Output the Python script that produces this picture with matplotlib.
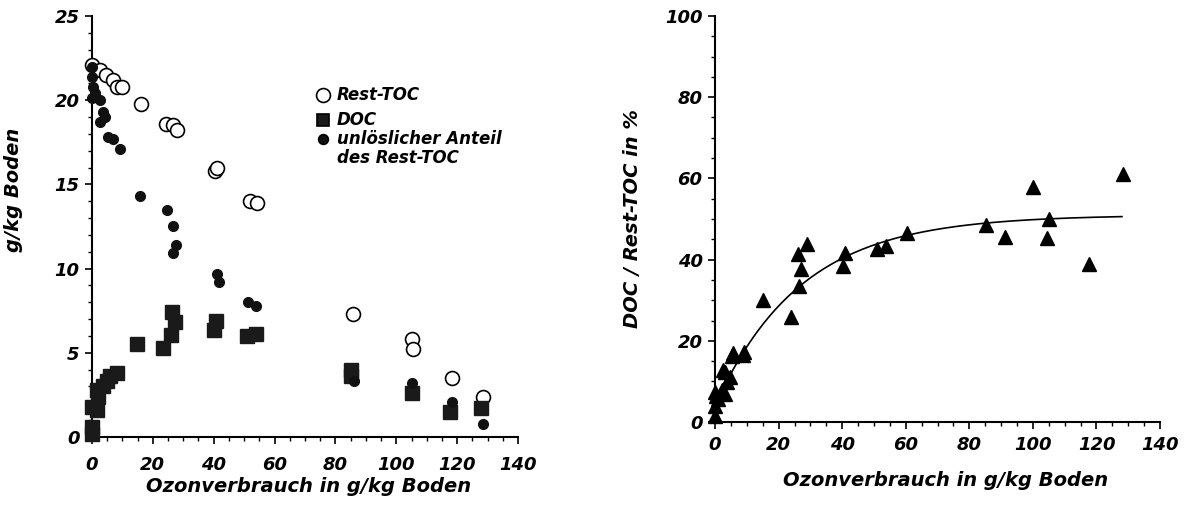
import numpy as np
import matplotlib.pyplot as plt
from matplotlib.ticker import MultipleLocator

# Linkes Diagramm: Kohlenstoffanteile in g/kg Boden
rest_toc_x = [0, 2.6, 4.6, 7, 8.3, 9.8, 16, 24.3, 26.7, 27.9, 40.5, 41.2, 52, 54.3, 85.9, 105, 105.6, 118.4, 128.6]
rest_toc_y = [22.1, 21.8, 21.5, 21.2, 20.8, 20.8, 19.8, 18.6, 18.5, 18.2, 15.8, 16.0, 14.0, 13.9, 7.3, 5.8, 5.2, 3.5, 2.4]

doc_x = [0, 0, 0, 1.5, 2, 1.5, 3.7, 4.8, 6, 8.3, 14.8, 23.4, 26.2, 27.3, 26, 40, 40.8, 51, 54, 85.2, 85.2, 105, 117.8, 128]
doc_y = [0.2, 0.6, 1.8, 1.6, 2.4, 2.8, 3.0, 3.3, 3.6, 3.8, 5.5, 5.3, 7.4, 6.8, 6.05, 6.35, 6.9, 6.0, 6.1, 4.0, 3.6, 2.6, 1.5, 1.7]

unl_x = [0, 0, 0.3, 1, 0, 2.6, 3.7, 4.3, 2.6, 5.3, 7, 9.2, 15.8, 24.6, 26.7, 27.6, 26.6, 41, 41.8, 51.4, 54, 86, 105, 118.4, 128.6]
unl_y = [22.0, 21.4, 20.8, 20.4, 20.1, 20.0, 19.3, 19.0, 18.7, 17.8, 17.7, 17.1, 14.3, 13.5, 12.5, 11.4, 10.9, 9.7, 9.2, 8.0, 7.8, 3.3, 3.2, 2.1, 0.8]

# Rechtes Diagramm: DOC / Rest-TOC in %
ratio_x = [0, 0, 0.3, 0, 1, 2.2, 3.1, 2.5, 3.1, 3.8, 4.7, 5.3, 5.7, 8.8, 9.1, 15.1, 23.9, 26.1, 28.9, 27, 26.4,
           40.9, 40.3, 51, 53.8, 60.4, 85.2, 91.2, 100, 105, 104.4, 117.6, 128.3]
ratio_y = [1.5, 3.9, 6.3, 7.3, 5.6, 8.0, 6.8, 12.9, 12.2, 9.8, 11.2, 16.3, 17.1, 16.6, 17.3, 30, 25.8, 41.5, 43.9, 37.8, 33.4,
           41.7, 38.5, 42.7, 43.4, 46.6, 48.6, 45.5, 58, 50.1, 45.2, 38.8, 61.2]

# Ausgleichskurve y = c + a * (1 - exp(-b x))
fit_c, fit_a, fit_b = 4.0, 47.0, 0.037

FONT = dict(family='DejaVu Sans', fontweight='bold', fontstyle='italic')
LABEL_X = 'Ozonverbrauch in g/kg Boden'

fig = plt.figure(figsize=(11.87, 5.09), dpi=100)
ax1 = fig.add_axes([0.0775, 0.1415, 0.3589, 0.8271])
ax2 = fig.add_axes([0.6024, 0.1709, 0.3749, 0.7977])


def style_axes(ax, ymax, ymajor, yminor, xpad):
    ax.set_xlim(0, 140)
    ax.set_ylim(0, ymax)
    ax.spines['top'].set_visible(False)
    ax.spines['right'].set_visible(False)
    ax.spines['left'].set_linewidth(1.5)
    ax.spines['bottom'].set_linewidth(1.5)
    ax.xaxis.set_major_locator(MultipleLocator(20))
    ax.xaxis.set_minor_locator(MultipleLocator(5))
    ax.yaxis.set_major_locator(MultipleLocator(ymajor))
    ax.yaxis.set_minor_locator(MultipleLocator(yminor))
    ax.tick_params(which='major', direction='out', length=5, width=1.2, pad=4)
    ax.tick_params(axis='x', which='major', pad=xpad)
    ax.tick_params(which='minor', direction='out', length=3, width=1.0)
    for lab in ax.get_xticklabels() + ax.get_yticklabels():
        lab.set_fontsize(13)
        lab.set_family(FONT['family'])
        lab.set_fontweight('bold')
        lab.set_fontstyle('italic')


# linkes Diagramm
ax1.plot(rest_toc_x, rest_toc_y, 'o', ms=10, mfc='white', mec='black', mew=1.2, clip_on=False, zorder=3)
ax1.plot(doc_x, doc_y, 's', ms=10, color='#1a1a1a', clip_on=False, zorder=4)
ax1.plot(unl_x, unl_y, 'o', ms=7, color='#111111', clip_on=False, zorder=5)
style_axes(ax1, 25, 5, 1, 9)
ax1.set_xlabel(LABEL_X, fontsize=14, **FONT)
ax1.set_ylabel('g/kg Boden', fontsize=14, **FONT)
ax1.xaxis.set_label_coords(0.509, -0.095)
ax1.yaxis.set_label_coords(-0.163, 0.587)

# Legende (Zeilenpositionen in Achsenanteilen)
legend_items = [('o', 10, 'white', 'Rest-TOC', 0.812),
                ('s', 9, '#1a1a1a', 'DOC', 0.753),
                ('o', 7, '#111111', 'unlöslicher Anteil', 0.708)]
for m, ms, fc, text, yy in legend_items:
    ax1.plot([0.542], [yy], m, ms=ms, mfc=fc, mec='black', mew=1.2, transform=ax1.transAxes, clip_on=False)
    ax1.text(0.575, yy, text, transform=ax1.transAxes, fontsize=12, va='center', **FONT)
ax1.text(0.575, 0.662, 'des Rest-TOC', transform=ax1.transAxes, fontsize=12, va='center', **FONT)

# rechtes Diagramm
ax2.plot(ratio_x, ratio_y, '^', ms=9.5, color='black', clip_on=False, zorder=4)
xs = np.linspace(2, 128, 200)
ax2.plot(xs, fit_c + fit_a * (1 - np.exp(-fit_b * xs)), color='black', lw=1.2, zorder=3)
style_axes(ax2, 100, 20, 5, 5)
ax2.set_xlabel(LABEL_X, fontsize=14, **FONT)
ax2.set_ylabel('DOC / Rest-TOC in %', fontsize=14, **FONT)
ax2.xaxis.set_label_coords(0.517, -0.12)
ax2.yaxis.set_label_coords(-0.165, 0.50)

fig.savefig('out.png', dpi=100)
